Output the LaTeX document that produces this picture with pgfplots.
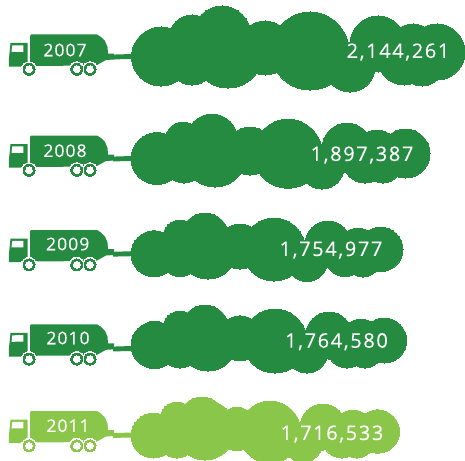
\documentclass[border=0pt]{standalone}
\usepackage{fontspec}
\setmainfont{Open Sans}
\usepackage{pgfplots}
\usepackage{pgfplotstable}
\pgfplotsset{compat=1.18}
\definecolor{dg}{HTML}{248B40}
\definecolor{lg}{HTML}{8AC649}
\pgfplotstableread{
x y r
161 56.5 29.5
192 38 23
192 63 22
222 35 29
228 53 35
265 48 27
310 51 39
350 67 25
378 44 28
404 59 26
422 65 21
413 50 26
437 52 28
}\cloudA
\pgfplotstableread{
x y r
157 158.5 26
183 140 18
184 164 19
212 140 26
215 156 31
250 151 24
288 153.7 34.5
322 167 22
347 148 25
365 161 22
383 165 18
377 152 22
405.5 153.5 24.5
}\cloudB
\pgfplotstableread{
x y r
154 253.7 23
180 237 17
180 258 18.5
205 237 24
208 250 29
240 246.5 22.5
274 249.5 31.5
307 261 20.5
328 244 23
345 256.5 20
363 260 17
358 248 20
380.7 249.3 22.3
}\cloudC
\pgfplotstableread{
x y r
154.5 345 23.5
180 328 17
180 349.5 18.5
205 329 24
208 342 29
240 338.3 22.5
275 341 32
307 352.5 20.5
329 335.5 23.5
347 348 20
365 351 17
361 339 20
384.2 340.5 22.5
}\cloudD
\pgfplotstableread{
x y r
153.5 435.5 22.5
177 419 17
177 440 18
202 421 24
205 430 30
237 429 21.5
270 432 31
303 442 20
323 427 23
342 438 20
357 441 17
353 430 20
377.8 431.5 21.7
}\cloudE
\pgfplotstableread{
x y
9 66.7
8.8 60
10.5 43
27.5 43
27.5 62
31 62
31 66.7
}\cab
\pgfplotstableread{
x y
12.3 45.5
23.3 45.3
23.3 51.8
11.5 52
}\window
\pgfplotstableread{
x y
30 36
31 34.5
97 34.5
101 37
105 41
107.5 47
108 53.5
114 53.5
114 59.5
106 60
96 65.5
30 66
}\tank
\pgfplotstableread{
x y
113 54.6
132 54
132 59
113 59.4
}\pipe
\pgfplotstableread{
x y
29 69.3
76.7 69.3
90 69.3
}\wheels
\newcommand{\cloud}[2]{\addplot[scatter,only marks,mark=*,
  mark options={line width=0pt},
  visualization depends on={\thisrow{r}\as\rad},
  scatter/use mapped color={draw=#2,fill=#2},
  scatter/@pre marker code/.append style={/tikz/mark size=\rad}]
  table[x=x,y=y]{#1};}
\newcommand{\truck}[3]{%
  \addplot[fill=#2,draw=none] table[x=x,y expr=\thisrow{y}+#1]{\cab} -- cycle;
  \addplot[fill=white,draw=none] table[x=x,y expr=\thisrow{y}+#1]{\window} -- cycle;
  \addplot[fill=#2,draw=none] table[x=x,y expr=\thisrow{y}+#1]{\tank} -- cycle;
  \addplot[fill=#2,draw=none] table[x=x,y expr=\thisrow{y}+#3]{\pipe} -- cycle;
  \addplot[only marks,mark=*,mark size=7.6,mark options={line width=0pt,draw=white,fill=white}] table[x=x,y expr=\thisrow{y}+#1]{\wheels};
  \addplot[only marks,mark=*,mark size=6,mark options={line width=0pt,draw=#2,fill=#2}] table[x=x,y expr=\thisrow{y}+#1]{\wheels};
  \addplot[only marks,mark=*,mark size=3.4,mark options={line width=0pt,draw=white,fill=white}] table[x=x,y expr=\thisrow{y}+#1]{\wheels};
}
\newcommand{\yr}[3]{\node[text=white,font=\fontsize{17.5}{20}\selectfont\addfontfeatures{LetterSpace=6,FakeBold=0.25}] at (axis cs:#1,#2) {#3};}
\newcommand{\val}[3]{\node[text=white,font=\fontsize{20}{24}\selectfont\addfontfeatures{LetterSpace=8,FakeBold=0.25}] at (axis cs:#1,#2) {#3};}
\begin{document}
\begin{tikzpicture}
\begin{axis}[width=465pt,height=460pt,scale only axis,at={(0pt,0pt)},anchor=south west,xmin=0,xmax=465,ymin=0,ymax=460,y dir=reverse,hide axis,clip marker paths=true,clip=true]
\truck{0}{dg}{0}
\truck{101}{dg}{102}
\truck{195.5}{dg}{197.2}
\truck{289.8}{dg}{292}
\truck{376.5}{lg}{378.5}
\cloud{\cloudA}{dg}
\cloud{\cloudB}{dg}
\cloud{\cloudC}{dg}
\cloud{\cloudD}{dg}
\cloud{\cloudE}{lg}
\yr{65}{50}{2007}
\yr{65}{150.7}{2008}
\yr{67.7}{244}{2009}
\yr{68}{338}{2010}
\yr{68}{425.7}{2011}
\val{398}{52}{2,144,261}
\val{362}{155}{1,897,387}
\val{331}{250}{1,754,977}
\val{336.5}{341.7}{1,764,580}
\val{332}{434}{1,716,533}
\end{axis}
\pgfresetboundingbox
\path[use as bounding box] (0pt,0pt) rectangle (465pt,460pt);
\end{tikzpicture}
\end{document}
